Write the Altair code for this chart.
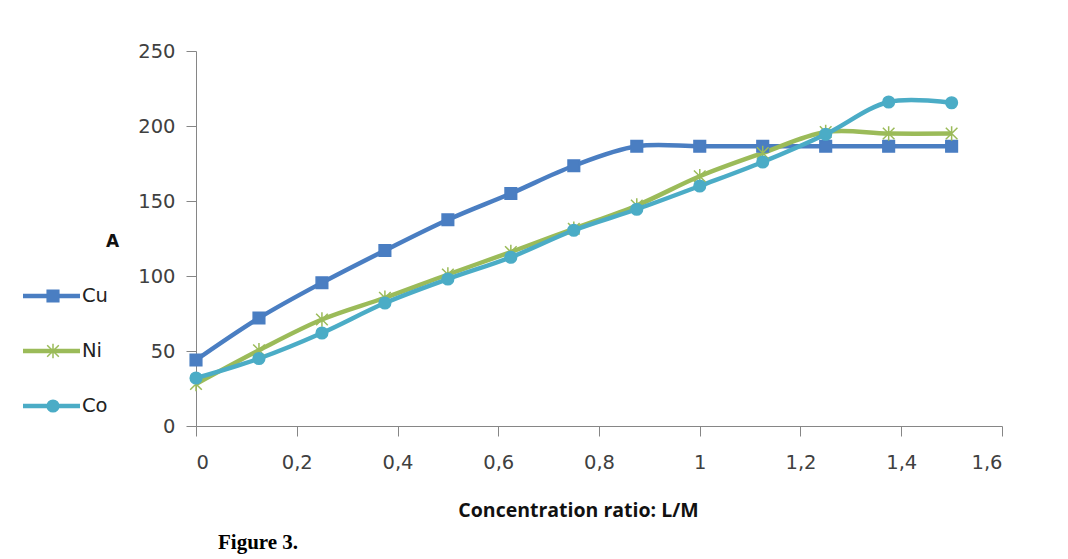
import altair as alt
import pandas as pd

# ---- data ----
ratio = [0, 0.125, 0.25, 0.375, 0.5, 0.625, 0.75, 0.875, 1.0, 1.125, 1.25, 1.375, 1.5]
cu = [44, 72, 95.5, 117, 137.5, 155, 173.5, 186.5, 186.5, 186.5, 186.5, 186.5, 186.5]
ni = [28, 50.5, 71, 85.5, 101, 116, 131.5, 147, 166.5, 182, 196, 195, 195]
co = [32, 45, 62, 82, 98, 112.5, 130.5, 144.5, 160, 176, 194.5, 216, 215.5]
series_names = ["Cu", "Ni", "Co"]
series_colors = ["#4A7EC2", "#9BBB59", "#4BACC6"]
y_ticks = [0, 50, 100, 150, 200, 250]
x_ticks = [0, 0.2, 0.4, 0.6, 0.8, 1.0, 1.2, 1.4, 1.6]

rows = []
for name, vals in zip(series_names, [cu, ni, co]):
    for r, v in zip(ratio, vals):
        rows.append({"ratio": r, "A": v, "series": name})
df = pd.DataFrame(rows)
leg_df = pd.DataFrame({"series": series_names})

SQUARE = "M-1,-1H1V1H-1Z"
ASTER = "M-1,-1L1,1M-1,1L1,-1M0,-1.25L0,1.25"
color_scale = alt.Scale(domain=series_names, range=series_colors)
shape_scale = alt.Scale(domain=series_names, range=[SQUARE, ASTER, "circle"])

AXIS_GRAY = "#868686"
LABEL_COLOR = "#404040"

x_enc = alt.X(
    "ratio:Q",
    scale=alt.Scale(domain=[0, 1.6], nice=False),
    axis=alt.Axis(
        values=x_ticks, grid=False, tickSize=10, domainColor=AXIS_GRAY, tickColor=AXIS_GRAY,
        labelFont="DejaVu Sans", labelFontSize=19.5, labelColor=LABEL_COLOR, labelPadding=17,
        labelExpr="replace(format(datum.value, '.1~f'), '.', ',')",
        title="Concentration ratio: L/M", titleFont="Open Sans", titleFontSize=19.5,
        titleFontWeight="bold", titleColor="#111111", titlePadding=30, titleX=382,
    ),
)
y_enc = alt.Y(
    "A:Q",
    scale=alt.Scale(domain=[0, 250], nice=False),
    axis=alt.Axis(
        values=y_ticks, grid=False, tickSize=10, domainColor=AXIS_GRAY, tickColor=AXIS_GRAY,
        labelFont="DejaVu Sans", labelFontSize=19.5, labelColor=LABEL_COLOR, labelPadding=11,
        title="A", titleAngle=0, titleFont="DejaVu Sans", titleFontSize=17,
        titleFontWeight="bold", titleColor="#111111", titleX=-84, titleY=190,
        titleAlign="center", titleBaseline="middle",
    ),
)

base = alt.Chart(df)
lines = base.mark_line(interpolate="catmull-rom", strokeWidth=4.5).encode(
    x=x_enc, y=y_enc,
    color=alt.Color("series:N", scale=color_scale, legend=None),
    detail="series:N",
)
points = base.mark_point(filled=True, size=135, strokeWidth=1.5, opacity=1).encode(
    x=x_enc, y=y_enc,
    color=alt.Color("series:N", scale=color_scale, legend=None),
    stroke=alt.Stroke("series:N", scale=color_scale, legend=None),
    shape=alt.Shape("series:N", scale=shape_scale, legend=None),
)
main = alt.layer(lines, points).properties(width=806, height=375)

# ---- legend panel ----
leg_base = alt.Chart(leg_df).encode(
    y=alt.Y("series:N", sort=series_names,
            scale=alt.Scale(type="point", range=[245, 355], padding=0), axis=None)
)
leg_rule = leg_base.mark_rule(strokeWidth=4.5).encode(
    x=alt.value(10), x2=alt.value(67),
    color=alt.Color("series:N", scale=color_scale, legend=None),
)
leg_pts = leg_base.mark_point(filled=True, size=135, strokeWidth=1.5, opacity=1).encode(
    x=alt.value(40),
    color=alt.Color("series:N", scale=color_scale, legend=None),
    stroke=alt.Stroke("series:N", scale=color_scale, legend=None),
    shape=alt.Shape("series:N", scale=shape_scale, legend=None),
)
leg_txt = leg_base.mark_text(align="left", baseline="middle", font="DejaVu Sans",
                             fontSize=19.5, color="#222222").encode(
    x=alt.value(69), text="series:N"
)
legend_panel = alt.layer(leg_rule, leg_pts, leg_txt).properties(width=100, height=375)

chart = alt.hconcat(legend_panel, main, spacing=83, bounds="flush").properties(
    padding={"left": 5, "top": 33, "right": 5, "bottom": 5},
    background="white",
    title=alt.TitleParams(
        "Figure 3.", orient="bottom", anchor="start", font="Liberation Serif",
        fontSize=21, fontWeight="bold", color="#000000", dx=205, offset=12,
    ),
).configure_view(strokeWidth=0, stroke="transparent")

chart.save("out.html", embed_options={"renderer": "svg", "actions": False})
